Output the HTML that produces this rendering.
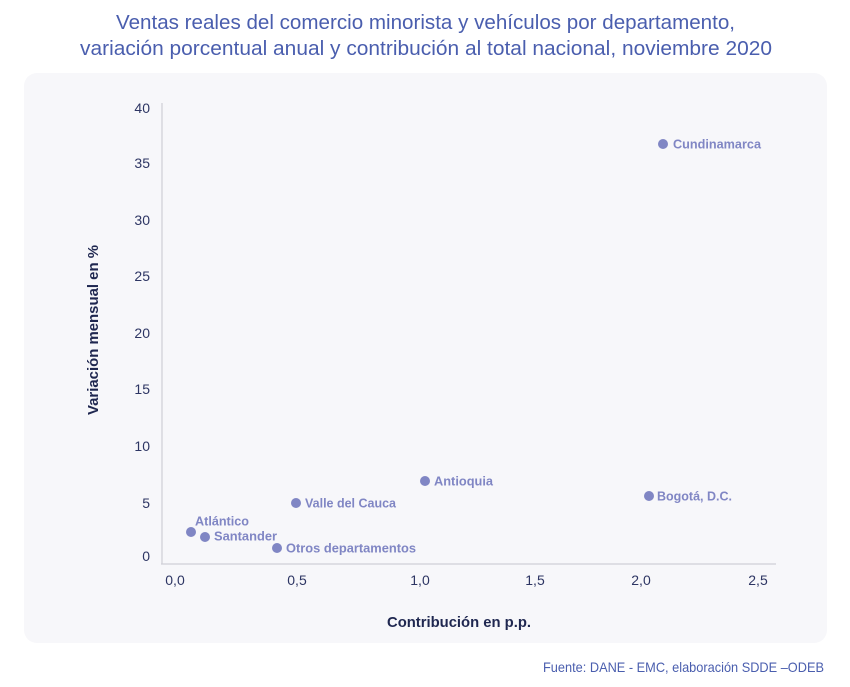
<!DOCTYPE html>
<html>
<head>
<meta charset="utf-8">
<style>
html,body{margin:0;padding:0;background:#ffffff;}
svg{display:block;}
</style>
</head>
<body>
<svg width="850" height="687" viewBox="0 0 850 687" xmlns="http://www.w3.org/2000/svg">
  <rect x="0" y="0" width="850" height="687" fill="#ffffff"/>
  <!-- title -->
  <text x="425.5" y="29" text-anchor="middle" font-family="Liberation Sans, sans-serif" font-size="20" fill="#4a5eae" textLength="619" lengthAdjust="spacingAndGlyphs">Ventas reales del comercio minorista y vehículos por departamento,</text>
  <text x="426" y="55" text-anchor="middle" font-family="Liberation Sans, sans-serif" font-size="20" fill="#4a5eae" textLength="692" lengthAdjust="spacingAndGlyphs">variación porcentual anual y contribución al total nacional, noviembre 2020</text>
  <!-- card -->
  <rect x="24" y="73" width="803" height="570" rx="13" ry="13" fill="#f7f7fa"/>
  <!-- axes -->
  <line x1="162" y1="103" x2="162" y2="564" stroke="#cfcfd6" stroke-width="1.2"/>
  <line x1="161" y1="564" x2="776" y2="564" stroke="#cfcfd6" stroke-width="1.2"/>
  <!-- y tick labels -->
  <g font-family="Liberation Sans, sans-serif" font-size="14" fill="#2d3563" text-anchor="end">
    <text x="150" y="113">40</text>
    <text x="150" y="168">35</text>
    <text x="150" y="225">30</text>
    <text x="150" y="281">25</text>
    <text x="150" y="338">20</text>
    <text x="150" y="394">15</text>
    <text x="150" y="451">10</text>
    <text x="150" y="508">5</text>
    <text x="150" y="561">0</text>
  </g>
  <!-- x tick labels -->
  <g font-family="Liberation Sans, sans-serif" font-size="14" fill="#2d3563" text-anchor="middle">
    <text x="175" y="585">0,0</text>
    <text x="297" y="585">0,5</text>
    <text x="420" y="585">1,0</text>
    <text x="535" y="585">1,5</text>
    <text x="641" y="585">2,0</text>
    <text x="758" y="585">2,5</text>
  </g>
  <!-- axis titles -->
  <text x="459" y="627" text-anchor="middle" font-family="Liberation Sans, sans-serif" font-size="15" font-weight="bold" fill="#1f2750" textLength="144" lengthAdjust="spacingAndGlyphs">Contribución en p.p.</text>
  <text transform="translate(98,330) rotate(-90)" x="0" y="0" text-anchor="middle" font-family="Liberation Sans, sans-serif" font-size="15" font-weight="bold" fill="#1f2750" textLength="170" lengthAdjust="spacingAndGlyphs">Variación mensual en %</text>
  <!-- points -->
  <g fill="#8086c4">
    <circle cx="663" cy="144" r="5"/>
    <circle cx="649" cy="496" r="5"/>
    <circle cx="425" cy="481" r="5"/>
    <circle cx="296" cy="503" r="5"/>
    <circle cx="191" cy="532" r="5"/>
    <circle cx="205" cy="537" r="5"/>
    <circle cx="277" cy="548" r="5"/>
  </g>
  <g font-family="Liberation Sans, sans-serif" font-size="13" font-weight="bold" fill="#8086c4">
    <text x="673" y="148.5" textLength="88" lengthAdjust="spacingAndGlyphs">Cundinamarca</text>
    <text x="657" y="500.5" textLength="75" lengthAdjust="spacingAndGlyphs">Bogotá, D.C.</text>
    <text x="434" y="485.5" textLength="59" lengthAdjust="spacingAndGlyphs">Antioquia</text>
    <text x="305" y="507.5" textLength="91" lengthAdjust="spacingAndGlyphs">Valle del Cauca</text>
    <text x="195" y="525.5" textLength="54" lengthAdjust="spacingAndGlyphs">Atlántico</text>
    <text x="214" y="540.5" textLength="63" lengthAdjust="spacingAndGlyphs">Santander</text>
    <text x="286" y="552.5" textLength="130" lengthAdjust="spacingAndGlyphs">Otros departamentos</text>
  </g>
  <!-- source -->
  <text x="824" y="672" text-anchor="end" font-family="Liberation Sans, sans-serif" font-size="14" fill="#4a5eae" textLength="281" lengthAdjust="spacingAndGlyphs">Fuente: DANE - EMC, elaboración SDDE –ODEB</text>
</svg>
</body>
</html>
